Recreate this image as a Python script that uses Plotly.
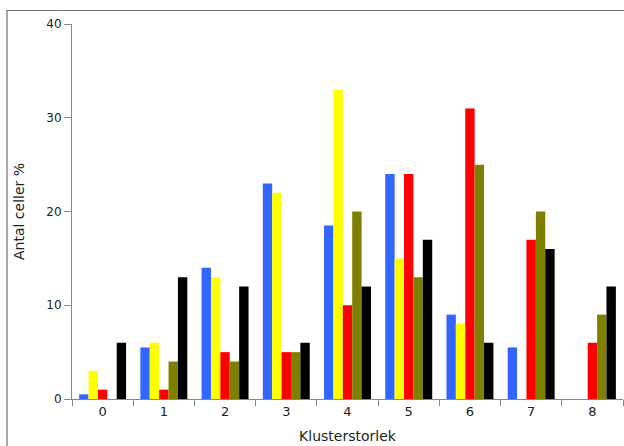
import plotly.graph_objects as go

categories = ["0", "1", "2", "3", "4", "5", "6", "7", "8"]
series_names = ["Serie 1", "Serie 2", "Serie 3", "Serie 4", "Serie 5"]
blue_values = [0.5, 5.5, 14, 23, 18.5, 24, 9, 5.5, 0]
yellow_values = [3, 6, 13, 22, 33, 15, 8, 0, 0]
red_values = [1, 1, 5, 5, 10, 24, 31, 17, 6]
olive_values = [0, 4, 4, 5, 20, 13, 25, 20, 9]
black_values = [6, 13, 12, 6, 12, 17, 6, 16, 12]
y_tick_values = [0, 10, 20, 30, 40]

colors = ["#3366FF", "#FFFF00", "#FF0000", "#808000", "#000000"]
all_values = [blue_values, yellow_values, red_values, olive_values, black_values]

fig = go.Figure()
for name, vals, col in zip(series_names, all_values, colors):
    fig.add_trace(go.Bar(
        x=categories, y=vals, name=name,
        marker=dict(color=col, line=dict(width=0)),
        showlegend=False,
    ))

font_family = "DejaVu Sans, Verdana, sans-serif"
fig.update_layout(
    width=624, height=446,
    margin=dict(l=72, r=1, t=24, b=47, pad=0),
    paper_bgcolor="white", plot_bgcolor="white",
    barmode="group", bargap=0.233, bargroupgap=0,
    font=dict(family=font_family, size=12, color="#222"),
    xaxis=dict(
        type="category", tickson="boundaries",
        showline=True, linecolor="#888", linewidth=1,
        ticks="outside", ticklen=6, tickcolor="#888",
        showgrid=False, zeroline=False,
        tickfont=dict(size=13, color="#222"),
        title=dict(text="Klusterstorlek", font=dict(size=14, color="#222"), standoff=13),
    ),
    yaxis=dict(
        range=[0, 40], tickvals=y_tick_values,
        showline=True, linecolor="#888", linewidth=1,
        ticks="outside", ticklen=7, tickcolor="#888",
        showgrid=False, zeroline=False,
        tickfont=dict(size=12, color="#222"),
        title=dict(text="Antal celler %", font=dict(size=14, color="#222"), standoff=18),
    ),
    shapes=[dict(
        type="rect", xref="paper", yref="paper",
        x0=-0.118, x1=1.02, y0=-0.3, y1=1.036,
        line=dict(color="#707070", width=1.2), layer="below",
    )],
)

fig.write_html(
    "out.html",
    config={"displayModeBar": False},
    post_script="document.body.style.margin='0';document.body.style.padding='0';",
)
